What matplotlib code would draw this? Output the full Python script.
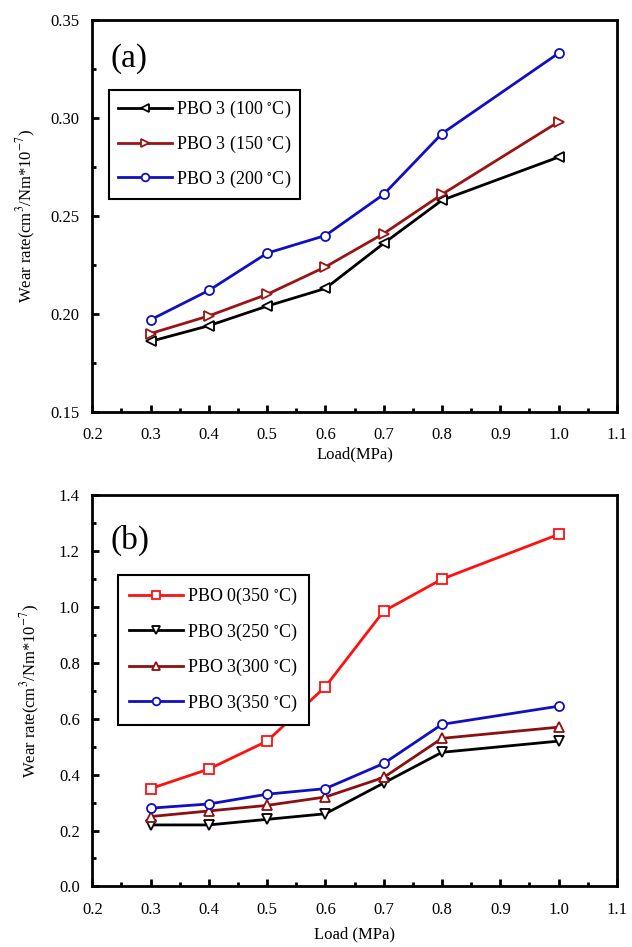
import matplotlib
matplotlib.use("Agg")
import matplotlib.pyplot as plt
from matplotlib.ticker import MultipleLocator

plt.rcParams["font.family"] = ["Liberation Serif", "DejaVu Serif"]
plt.rcParams["mathtext.fontset"] = "stix"

load = [0.3, 0.4, 0.5, 0.6, 0.7, 0.8, 1.0]

# panel (a)
a_100 = [0.186, 0.194, 0.204, 0.213, 0.236, 0.258, 0.280]
a_150 = [0.190, 0.199, 0.210, 0.224, 0.241, 0.261, 0.298]
a_200 = [0.197, 0.212, 0.231, 0.240, 0.261, 0.292, 0.333]
a_labels = [r"PBO 3 (100 $^{\circ}$C)", r"PBO 3 (150 $^{\circ}$C)", r"PBO 3 (200 $^{\circ}$C)"]

# panel (b)
b_pbo0_350 = [0.35, 0.42, 0.52, 0.715, 0.985, 1.10, 1.26]
b_250 = [0.22, 0.22, 0.24, 0.26, 0.37, 0.48, 0.52]
b_300 = [0.25, 0.27, 0.29, 0.32, 0.39, 0.53, 0.57]
b_350 = [0.28, 0.295, 0.33, 0.35, 0.44, 0.58, 0.645]
b_labels = [r"PBO 0(350 $^{\circ}$C)", r"PBO 3(250 $^{\circ}$C)",
            r"PBO 3(300 $^{\circ}$C)", r"PBO 3(350 $^{\circ}$C)"]

ylab = r"Wear rate(cm$^{3}$/Nm*10$^{-7}$)"

fig = plt.figure(figsize=(6.32, 9.47), dpi=100)
ax1 = fig.add_axes([0.146, 0.565, 0.830, 0.414])
ax2 = fig.add_axes([0.146, 0.064, 0.830, 0.413])


def style(ax):
    for s in ax.spines.values():
        s.set_linewidth(2)
    ax.tick_params(which="both", direction="in", top=False, right=False, width=2)
    ax.tick_params(which="major", length=5, labelsize=12)
    ax.tick_params(axis="x", which="major", pad=11)
    ax.tick_params(axis="y", which="major", pad=9)
    ax.tick_params(which="minor", length=3)
    ax.set_xlim(0.2, 1.1)
    ax.xaxis.set_major_locator(MultipleLocator(0.1))
    ax.xaxis.set_minor_locator(MultipleLocator(0.05))


mk = dict(markersize=6.5, markerfacecolor="white", markeredgewidth=1.3, linewidth=2)

ax1.plot(load, a_100, "-<", color="black", label=a_labels[0], **mk)
ax1.plot(load, a_150, "->", color="#9b1414", label=a_labels[1], **mk)
ax1.plot(load, a_200, "-o", color="#1010c0", label=a_labels[2], **mk)
style(ax1)
ax1.set_ylim(0.15, 0.35)
ax1.yaxis.set_major_locator(MultipleLocator(0.05))
ax1.yaxis.set_minor_locator(MultipleLocator(0.025))
ax1.yaxis.set_major_formatter(lambda v, p: "%.2f" % v)
ax1.xaxis.set_major_formatter(lambda v, p: "%.1f" % v)
ax1.set_xlabel("Load(MPa)", fontsize=12, labelpad=2)
ax1.set_ylabel(ylab, fontsize=12, labelpad=9)
ax1.text(0.034, 0.90, "(a)", transform=ax1.transAxes, fontsize=24, va="center")
leg1 = ax1.legend(loc="upper left", bbox_to_anchor=(0.032, 0.821), fontsize=13,
                  handlelength=3, handletextpad=0.2, borderpad=0.5,
                  labelspacing=0.75, fancybox=False, edgecolor="black",
                  framealpha=1, markerscale=0.85, borderaxespad=0)
leg1.get_frame().set_linewidth(1.5)

ax2.plot(load, b_pbo0_350, "-s", color="#ff1010", label=b_labels[0], **mk)
ax2.plot(load, b_250, "-v", color="black", label=b_labels[1], **mk)
ax2.plot(load, b_300, "-^", color="#8b1010", label=b_labels[2], **mk)
ax2.plot(load, b_350, "-o", color="#1010c0", label=b_labels[3], **mk)
style(ax2)
ax2.set_ylim(0.0, 1.4)
ax2.yaxis.set_major_locator(MultipleLocator(0.2))
ax2.yaxis.set_minor_locator(MultipleLocator(0.1))
ax2.yaxis.set_major_formatter(lambda v, p: "%.1f" % v)
ax2.xaxis.set_major_formatter(lambda v, p: "%.1f" % v)
ax2.set_xlabel("Load (MPa)", fontsize=12, labelpad=6)
ax2.set_ylabel(ylab, fontsize=12, labelpad=12)
ax2.text(0.034, 0.885, "(b)", transform=ax2.transAxes, fontsize=24, va="center")
leg2 = ax2.legend(loc="upper left", bbox_to_anchor=(0.05, 0.796), fontsize=13,
                  handlelength=3, handletextpad=0.2, borderpad=0.6,
                  labelspacing=0.8, fancybox=False, edgecolor="black",
                  framealpha=1, markerscale=0.85, borderaxespad=0)
leg2.get_frame().set_linewidth(1.5)

fig.savefig("out.png", dpi=100)
